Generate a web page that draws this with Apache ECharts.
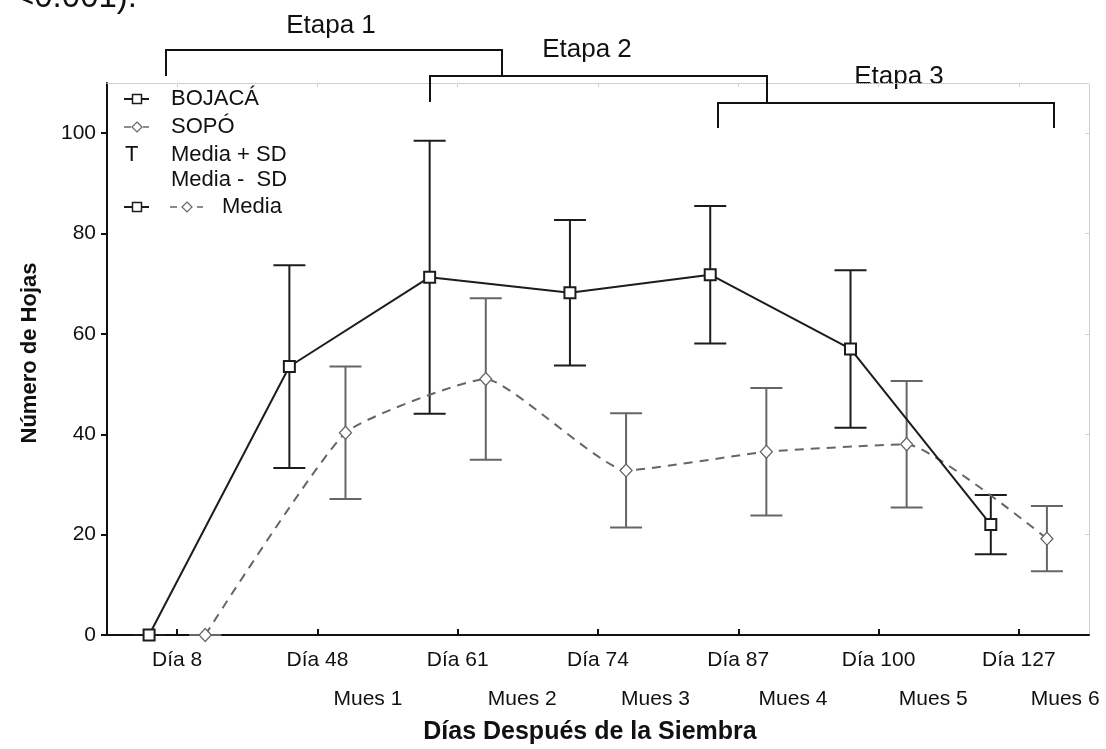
<!DOCTYPE html>
<html>
<head>
<meta charset="utf-8">
<script src="https://cdn.jsdelivr.net/npm/echarts@6/dist/echarts.min.js"></script>
<style>
  html, body { margin: 0; padding: 0; background: #fff; }
  #chart { width: 1106px; height: 749px; }
</style>
</head>
<body>
<div id="chart"></div>
<script>
// Sampling days (x axis) and sample labels (second row)
const dayLabels = ['Día 8', 'Día 48', 'Día 61', 'Día 74', 'Día 87', 'Día 100', 'Día 127'];
const muesLabels = ['Mues 1', 'Mues 2', 'Mues 3', 'Mues 4', 'Mues 5', 'Mues 6'];
const yTicks = [0, 20, 40, 60, 80, 100];

// Leaf count, mean and standard deviation per sampling day
const bojacaMean = [0, 53.5, 71.3, 68.2, 71.8, 57.0, 22.0];
const bojacaSD   = [0, 20.2, 27.2, 14.5, 13.7, 15.7, 5.9];
const sopoMean   = [0, 40.3, 51.0, 32.8, 36.5, 38.0, 19.2];
const sopoSD     = [0, 13.2, 16.1, 11.4, 12.7, 12.6, 6.5];

// Stage brackets above the plot
const stageNames = ['Etapa 1', 'Etapa 2', 'Etapa 3'];

// ---- layout ----
const FONT = '"Liberation Sans", Arial, sans-serif';
const DARK = '#1c1c1c';
const GREY = '#666666';
const BOJ_OFF = -0.2;   // horizontal shift of each group around its day tick
const SOP_OFF = 0.2;
const muesPos = [1.36, 2.46, 3.41, 4.39, 5.39, 6.33];

const dayTicks = dayLabels.map((_, i) => i);

const bojPts = bojacaMean.map((m, i) => [i + BOJ_OFF, m]);
const sopPts = sopoMean.map((m, i) => [i + SOP_OFF, m]);
const bojErr = bojacaMean.map((m, i) => [i + BOJ_OFF, m - bojacaSD[i], m + bojacaSD[i]]);
const sopErr = sopoMean.map((m, i) => [i + SOP_OFF, m - sopoSD[i], m + sopoSD[i]]);

function errorBar(color) {
  return function (params, api) {
    const x = api.value(0);
    const lo = api.coord([x, api.value(1)]);
    const hi = api.coord([x, api.value(2)]);
    const hw = 16;
    const style = { stroke: color, lineWidth: 2, fill: null };
    return {
      type: 'group',
      children: [
        { type: 'line', shape: { x1: hi[0], y1: hi[1], x2: lo[0], y2: lo[1] }, style },
        { type: 'line', shape: { x1: hi[0] - hw, y1: hi[1], x2: hi[0] + hw, y2: hi[1] }, style },
        { type: 'line', shape: { x1: lo[0] - hw, y1: lo[1], x2: lo[0] + hw, y2: lo[1] }, style }
      ]
    };
  };
}

// Legend and annotation drawing helpers
function txt(x, y, s, size, opts) {
  return {
    type: 'text', x, y,
    style: Object.assign({ text: s, font: size + 'px ' + FONT, fill: '#111', verticalAlign: 'middle', align: 'left' }, opts || {})
  };
}
function seg(x1, y1, x2, y2, color, w) {
  return { type: 'line', shape: { x1, y1, x2, y2 }, style: { stroke: color, lineWidth: w || 2 }, z: 100 };
}
function square(cx, cy, s) {
  return { type: 'rect', shape: { x: cx - s / 2, y: cy - s / 2, width: s, height: s }, style: { fill: '#fff', stroke: DARK, lineWidth: 1.5 }, z: 101 };
}
function diamond(cx, cy, s) {
  const h = s / 2;
  return { type: 'polygon', shape: { points: [[cx, cy - h], [cx + h, cy], [cx, cy + h], [cx - h, cy]] }, style: { fill: '#fff', stroke: GREY, lineWidth: 1.2 }, z: 101 };
}
function bracket(x1, x2, yTop, yBot1, yBot2) {
  return { type: 'polyline', shape: { points: [[x1, yBot1], [x1, yTop], [x2, yTop], [x2, yBot2]] }, style: { stroke: '#111', lineWidth: 2, fill: null }, z: 100 };
}

const L = 124;
const rows = [99, 127, 155, 180, 207];
const graphics = [
  // tail of the caption line above the figure
  txt(137, -2, 'P <0.001).', 33, { align: 'right' }),
  // stage brackets
  bracket(166, 502, 50, 76, 76),
  bracket(430, 767, 76, 102, 103),
  bracket(718, 1054, 103, 128, 128),
  txt(331, 26, stageNames[0], 26, { align: 'center' }),
  txt(587, 50, stageNames[1], 26, { align: 'center' }),
  txt(899, 77, stageNames[2], 26, { align: 'center' }),
  // legend
  seg(L, rows[0], L + 25, rows[0], DARK), square(L + 13, rows[0], 9),
  txt(171, rows[0], 'BOJACÁ', 22),
  seg(L, rows[1], L + 7, rows[1], GREY, 1.5), seg(L + 19, rows[1], L + 25, rows[1], GREY, 1.5), diamond(L + 13, rows[1], 10),
  txt(171, rows[1], 'SOPÓ', 22),
  txt(L + 1, rows[2], 'T', 22),
  txt(171, rows[2], 'Media + SD', 22),
  txt(171, rows[3], 'Media -  SD', 22),
  seg(L, rows[4], L + 25, rows[4], DARK), square(L + 13, rows[4], 9),
  seg(170, rows[4], 177, rows[4], GREY, 1.5), seg(197, rows[4], 203, rows[4], GREY, 1.5), diamond(187, rows[4], 10),
  txt(222, rows[4], 'Media', 22),
  // axis titles
  txt(590, 732, 'Días Después de la Siembra', 25, { align: 'center', font: 'bold 25px ' + FONT }),
  { type: 'text', x: 30, y: 353, rotation: Math.PI / 2,
    style: { text: 'Número de Hojas', font: 'bold 22px ' + FONT, fill: '#111', align: 'center', verticalAlign: 'middle' } }
];

const chart = echarts.init(document.getElementById('chart'), null, { renderer: 'canvas' });
chart.setOption({
  animation: false,
  backgroundColor: '#fff',
  grid: { left: 107, right: 17, top: 83, bottom: 114, containLabel: false },
  xAxis: [
    {
      type: 'value', min: -0.5, max: 6.5, position: 'bottom',
      axisLine: { show: true, onZero: false, lineStyle: { color: '#111', width: 2 } },
      axisTick: { show: true, inside: true, length: 6, customValues: dayTicks, lineStyle: { color: '#111', width: 2 } },
      axisLabel: { customValues: dayTicks, margin: 15, fontSize: 21, fontFamily: FONT, color: '#111',
        formatter: v => dayLabels[Math.round(v)] },
      splitLine: { show: false }
    },
    {
      type: 'value', min: -0.5, max: 6.5, position: 'bottom', offset: 40,
      axisLine: { show: false }, axisTick: { show: false },
      axisLabel: { customValues: muesPos, margin: 14, fontSize: 21, fontFamily: FONT, color: '#111',
        formatter: v => muesLabels[muesPos.indexOf(v)] },
      splitLine: { show: false }
    },
    {
      type: 'value', min: -0.5, max: 6.5, position: 'top',
      axisLine: { show: true, onZero: false, lineStyle: { color: '#c4c4c4', width: 1, type: 'dotted' } },
      axisTick: { show: true, inside: true, length: 4, customValues: dayTicks, lineStyle: { color: '#d0d0d0', width: 1 } },
      axisLabel: { show: false }, splitLine: { show: false }
    }
  ],
  yAxis: [
    {
      type: 'value', min: 0, max: 110, position: 'left',
      axisLine: { show: true, onZero: false, lineStyle: { color: '#111', width: 2 } },
      axisTick: { show: true, length: 6, customValues: yTicks, lineStyle: { color: '#111', width: 2 } },
      axisLabel: { customValues: yTicks, margin: 11, fontSize: 21, fontFamily: FONT, color: '#111' },
      splitLine: { show: false }
    },
    {
      type: 'value', min: 0, max: 110, position: 'right',
      axisLine: { show: true, onZero: false, lineStyle: { color: '#c4c4c4', width: 1, type: 'dotted' } },
      axisTick: { show: true, inside: true, length: 4, customValues: yTicks.slice(1), lineStyle: { color: '#d0d0d0', width: 1 } },
      axisLabel: { show: false }, splitLine: { show: false }
    }
  ],
  series: [
    {
      name: 'SOPÓ err', type: 'custom', xAxisIndex: 0, yAxisIndex: 0,
      renderItem: errorBar(GREY), data: sopErr, encode: { x: 0, y: [1, 2] }, z: 2, clip: false
    },
    {
      name: 'BOJACÁ err', type: 'custom', xAxisIndex: 0, yAxisIndex: 0,
      renderItem: errorBar(DARK), data: bojErr, encode: { x: 0, y: [1, 2] }, z: 3, clip: false
    },
    {
      name: 'SOPÓ', type: 'line', data: sopPts, smooth: 0.15,
      symbol: 'diamond', symbolSize: [12, 13],
      lineStyle: { color: GREY, width: 2, type: [9, 7] },
      itemStyle: { color: '#fff', borderColor: GREY, borderWidth: 1.3 }, z: 4
    },
    {
      name: 'BOJACÁ', type: 'line', data: bojPts,
      symbol: 'rect', symbolSize: 11,
      lineStyle: { color: DARK, width: 2 },
      itemStyle: { color: '#fff', borderColor: DARK, borderWidth: 2 }, z: 5
    }
  ],
  graphic: graphics
});
</script>
</body>
</html>
